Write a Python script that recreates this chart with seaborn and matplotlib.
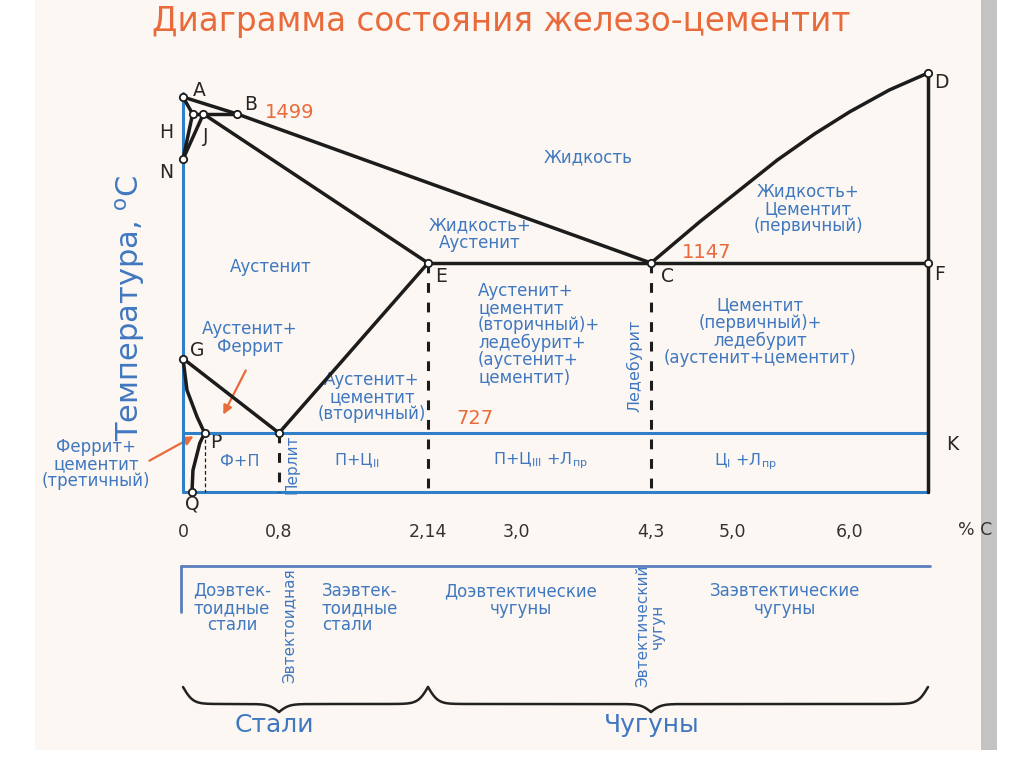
import numpy as np
import matplotlib
matplotlib.use("Agg")
import matplotlib.pyplot as plt
from matplotlib.patches import Rectangle
import seaborn as sns

# characteristic points of the diagram: %C and temperature, degC
point_names = ["A", "B", "H", "J", "N", "E", "C", "F", "D", "G", "S", "P", "Q"]
point_c = [0, 0.45, 0.08, 0.17, 0, 2.14, 4.3, 6.67, 6.67, 0, 0.8, 0.18, 0.075]
point_t = [1539, 1499, 1499, 1499, 1392, 1147, 1147, 1147, 1600, 911, 727, 727, 600]

# black phase boundaries
abc_c = [0, 0.45, 4.3]
abc_t = [1539, 1499, 1147]
cd_c = [4.3, 4.72, 5.38, 5.70, 6.0, 6.34, 6.67]
cd_t = [1147, 1245, 1390, 1452, 1504, 1557, 1600]
hb_c = [0.08, 0.45]
hb_t = [1499, 1499]
ah_c = [0, 0.08]
ah_t = [1539, 1499]
hn_c = [0.08, 0]
hn_t = [1499, 1392]
jn_c = [0.17, 0]
jn_t = [1499, 1392]
je_c = [0.17, 2.14]
je_t = [1499, 1147]
ecf_c = [2.14, 6.67]
ecf_t = [1147, 1147]
dk_c = [6.67, 6.67]
dk_t = [1600, 600]
gs_c = [0, 0.8]
gs_t = [911, 727]
se_c = [0.8, 2.14]
se_t = [727, 1147]
gp_c = [0, 0.033, 0.117, 0.18]
gp_t = [911, 833, 767, 727]
pq_c = [0.18, 0.14, 0.083, 0.075]
pq_t = [727, 705, 647, 600]

# blue frame: temperature axis, PSK line, bottom line
axis_c = [0, 0]
axis_t = [600, 1550]
psk_c = [0, 6.67]
psk_t = [727, 727]
base_c = [0, 6.67]
base_t = [600, 600]

# dashed structure boundaries
dash_c = [0.8, 2.14, 4.3]
dash_top = [727, 1147, 1147]
dash_bottom = 600

tick_c = [0, 0.8, 2.14, 3.0, 4.3, 5.0, 6.0]
tick_labels = ["0", "0,8", "2,14", "3,0", "4,3", "5,0", "6,0"]

# the diagram is schematic: non-uniform scales (value -> pixel)
C_KN = [-3, 0, 0.8, 2.14, 4.3, 6.67, 10]
X_PX = [-177, 183, 279, 428, 651, 928, 1318]
T_KN = [0, 600, 727, 1147, 1539, 1600, 2200]
Y_PX = [771, 492, 433, 263, 97, 73, -167]


def xf(v):
    return np.interp(v, C_KN, X_PX)


def xi(p):
    return np.interp(p, X_PX, C_KN)


def yf(v):
    return -np.interp(v, T_KN, Y_PX)


def yi(s):
    return np.interp(-np.asarray(s), Y_PX[::-1], T_KN[::-1])


W, H = 1024, 767
BLACK = "#1c1c1c"
BLUE = "#2f80c8"
TXT = "#4078c0"
ORANGE = "#e96a3a"

sns.set_style("white")
plt.rcParams["font.family"] = ["DejaVu Sans"]

fig = plt.figure(figsize=(W / 100, H / 100), dpi=100)
fig.patch.set_facecolor("white")

# overlay in pixel coordinates for background and annotations
ov = fig.add_axes([0, 0, 1, 1], zorder=-1)
ov.set_xlim(0, W)
ov.set_ylim(H, 0)
ov.axis("off")
ov.add_patch(Rectangle((35, 0), 946, 750, color="#fcf7f2", lw=0))
ov.add_patch(Rectangle((981, 0), 16, 750, color="#c3c3c3", lw=0))

AX_L, AX_R, AX_T, AX_B = 150, 960, 50, 492
ax = fig.add_axes([AX_L / W, 1 - AX_B / H, (AX_R - AX_L) / W, (AX_B - AX_T) / H])
ax.set_facecolor("none")
ax.set_xscale("function", functions=(xf, xi))
ax.set_yscale("function", functions=(yf, yi))

line_kw = dict(estimator=None, sort=False, legend=False, ax=ax, clip_on=False)

for c, t in [(axis_c, axis_t), (psk_c, psk_t), (base_c, base_t)]:
    sns.lineplot(x=c, y=t, color=BLUE, linewidth=2.2, zorder=2, **line_kw)

for c, t in [(abc_c, abc_t), (cd_c, cd_t), (hb_c, hb_t), (ah_c, ah_t),
             (hn_c, hn_t), (jn_c, jn_t), (je_c, je_t), (ecf_c, ecf_t),
             (dk_c, dk_t), (gs_c, gs_t), (se_c, se_t), (gp_c, gp_t),
             (pq_c, pq_t)]:
    sns.lineplot(x=c, y=t, color=BLACK, linewidth=2.5, zorder=3, **line_kw)

for c, top in zip(dash_c, dash_top):
    sns.lineplot(x=[c, c], y=[top, dash_bottom], color=BLACK, linewidth=2.2,
                 linestyle=(0, (3.2, 3.2)), zorder=3, **line_kw)
sns.lineplot(x=[point_c[11], point_c[11]], y=[point_t[11], dash_bottom],
             color=BLACK, linewidth=0.9, linestyle=(0, (3, 2)), zorder=3, **line_kw)

sns.scatterplot(x=point_c, y=point_t, marker="o", s=28, color="white",
                edgecolor=BLACK, linewidth=1.3, zorder=5, ax=ax, clip_on=False,
                legend=False)

ax.set_xlim(xi(AX_L), xi(AX_R))
ax.set_ylim(yi(-AX_B), yi(-AX_T))
ax.set_xticks(tick_c, tick_labels)
ax.set_yticks([])
ax.tick_params(axis="x", length=0, pad=22, labelsize=12.5, labelcolor="#333333")
ax.set_xlabel("")
ax.set_ylabel("")
for s in ax.spines.values():
    s.set_visible(False)


def put(x, y, s, size=12, color=TXT, **kw):
    kw.setdefault("ha", "center")
    kw.setdefault("va", "center")
    ov.text(x, y, s, fontsize=size, color=color, **kw)


put(501, 22, "Диаграмма состояния железо-цементит", size=23.5, color=ORANGE)
put(975, 530, "% C", size=12.5, color="#333333")
put(130, 308, "Температура, $^{\\mathrm{o}}$C", size=22, rotation=90)

# point letters
letter_xy = {"A": (199, 91), "B": (251, 104), "H": (166, 132), "J": (206, 137),
             "N": (166, 173), "G": (197, 350), "P": (216, 443), "Q": (192, 504),
             "E": (441, 277), "C": (667, 277), "F": (940, 274), "D": (941, 82),
             "K": (952, 444)}
for k, (x, y) in letter_xy.items():
    put(x, y, k, size=13.5, color="#262626")

put(290, 113, "1499", size=14, color=ORANGE)
put(707, 252, "1147", size=14, color=ORANGE)
put(475, 418, "727", size=14, color=ORANGE)

LS = 0.95
put(588, 157, "Жидкость")
put(480, 234, "Жидкость+\nАустенит", linespacing=LS)
put(808, 209, "Жидкость+\nЦементит\n(первичный)", linespacing=LS)
put(271, 267, "Аустенит")
put(250, 338, "Аустенит+\nФеррит", linespacing=LS)
put(372, 397, "Аустенит+\nцементит\n(вторичный)", linespacing=LS)
put(478, 334, "Аустенит+\nцементит\n(вторичный)+\nледебурит+\n(аустенит+\nцементит)",
    ha="left", multialignment="left", linespacing=LS)
put(760, 332, "Цементит\n(первичный)+\nледебурит\n(аустенит+цементит)", linespacing=LS)
put(96, 464, "Феррит+\nцементит\n(третичный)", linespacing=LS)
put(240, 461, "Ф+П", size=11.5)
put(357, 461, "П+Ц$_{\\mathrm{II}}$", size=11.5)
put(540, 461, "П+Ц$_{\\mathrm{III}}$ +Л$_{\\mathrm{пр}}$", size=11.5)
put(745, 462, "Ц$_{\\mathrm{I}}$ +Л$_{\\mathrm{пр}}$", size=11.5)
put(292, 464, "Перлит", size=11, rotation=90)
put(634, 366, "Ледебурит", size=11.5, rotation=90)

ov.annotate("", xy=(222, 417), xytext=(247, 368),
            arrowprops=dict(arrowstyle="-|>", color=ORANGE, lw=1.6, mutation_scale=13))
ov.annotate("", xy=(196, 435), xytext=(147, 462),
            arrowprops=dict(arrowstyle="-|>", color=ORANGE, lw=1.6, mutation_scale=13))

# classification bar under the diagram
LBLUE = "#5b7dbd"
ov.plot([xf(0) - 2, xf(6.67) + 2], [566, 566], color=LBLUE, lw=2)
ov.plot([xf(0) - 2, xf(0) - 2], [566, 612], color=LBLUE, lw=2)
put(232, 608, "Доэвтек-\nтоидные\nстали", linespacing=LS)
put(289, 626, "Эвтектоидная", size=11, rotation=90)
put(322, 608, "Заэвтек-\nтоидные\nстали", ha="left", multialignment="left", linespacing=LS)
put(521, 600, "Доэвтектические\nчугуны", linespacing=LS)
put(650, 626, "Эвтектический\nчугун", size=11, rotation=90, linespacing=LS)
put(785, 600, "Заэвтектические\nчугуны", linespacing=LS)


def brace(x_end, x_tip, y_end, body=17, tip=8):
    length = abs(x_tip - x_end)
    t = np.linspace(0, 1, 200)
    beta = length / 5.0
    s1 = 2 / (1 + np.exp(-beta * t)) - 1
    s2 = 2 / (1 + np.exp(-beta * (t - 1)))
    return x_end + (x_tip - x_end) * t, y_end + body * s1 + tip * s2


for a, tip, b in [(0, 0.8, 2.14), (2.14, 4.3, 6.67)]:
    for end in (a, b):
        bx, by = brace(xf(end), xf(tip), 687)
        ov.plot(bx, by, color="#222222", lw=1.8)

put(274, 725, "Стали", size=18)
put(652, 725, "Чугуны", size=18)

fig.savefig("out.png", dpi=100)
